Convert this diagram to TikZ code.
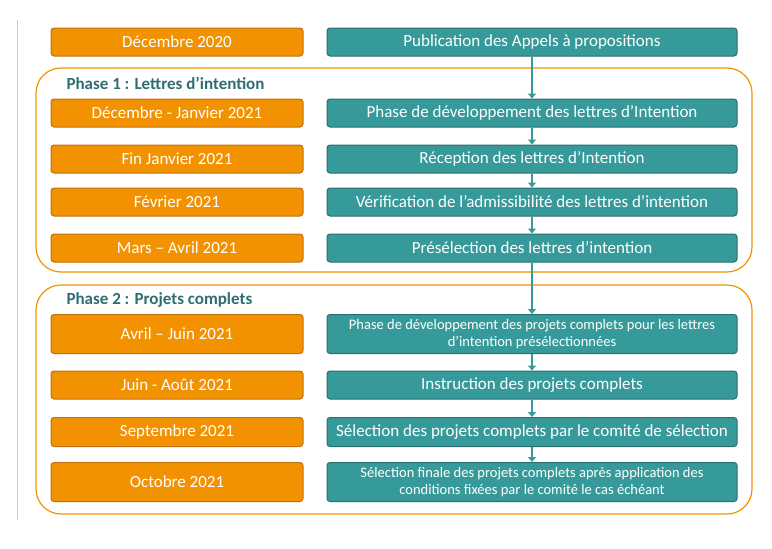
\documentclass[tikz,border=0pt]{standalone}
\usepackage{fontspec}
\setmainfont{Carlito}
\usetikzlibrary{arrows.meta}
\definecolor{org}{HTML}{F39200}
\definecolor{orgd}{HTML}{C07010}
\definecolor{tl}{HTML}{379A9A}
\definecolor{tld}{HTML}{2A6E70}
\definecolor{ttl}{HTML}{2E6E73}
\tikzset{x=1pt,y=-1pt,
 ob/.style={draw=orgd,fill=org,rounded corners=3pt,line width=1pt,text=white,font=\fontsize{17}{19}\selectfont,inner sep=0pt},
 tb/.style={draw=tld,fill=tl,rounded corners=3pt,line width=1pt,text=white,inner sep=0pt,align=center},
 ph/.style={draw=org,rounded corners=25pt,line width=1.2pt},
 ar/.style={draw=tl,line width=2.5pt,-{Triangle[length=5pt,width=8pt]}},
 pt/.style={text=ttl,font=\bfseries\fontsize{17}{19}\selectfont,anchor=west}}
\begin{document}
\begin{tikzpicture}
\useasboundingbox (0,0) rectangle (772,549);
\draw[gray!40,line width=0.8pt] (17,20) -- (17,520);
\draw[ph] (36,68) rectangle (752,272);
\draw[ph] (36,285) rectangle (752,514);
\node[pt] (p1) at (63,83) {Phase 1 : Lettres d’intention};
\node[pt] (p2) at (63,300) {Phase 2 : Projets complets};
\newcommand{\rowx}[6]{%
 \node[ob,minimum width=252pt,minimum height=#3pt] (o#1) at (177,#2) {#4};
 \node[tb,minimum width=410pt,minimum height=#3pt,font=#6] (t#1) at (532,#2) {#5};}
\def\nf{\fontsize{17}{19}\selectfont}
\def\sf{\fontsize{14.5}{17}\selectfont}
\rowx{1}{42}{28}{Décembre 2020}{Publication des Appels à propositions}{\nf}
\rowx{2}{113}{28}{Décembre - Janvier 2021}{Phase de développement des lettres d’Intention}{\nf}
\rowx{3}{159}{28}{Fin Janvier 2021}{Réception des lettres d’Intention}{\nf}
\rowx{4}{202}{28}{Février 2021}{Vérification de l’admissibilité des lettres d’intention}{\nf}
\rowx{5}{248}{28}{Mars – Avril 2021}{Présélection des lettres d’intention}{\nf}
\rowx{6}{334}{39}{Avril – Juin 2021}{Phase de développement des projets complets pour les lettres\\d’intention présélectionnées}{\sf}
\rowx{7}{385}{28}{Juin - Août 2021}{Instruction des projets complets}{\nf}
\rowx{8}{432}{29}{Septembre 2021}{Sélection des projets complets par le comité de sélection}{\nf}
\rowx{9}{482}{39}{Octobre 2021}{Sélection finale des projets complets après application des\\conditions fixées par le comité le cas échéant}{\sf}
\foreach \a/\b in {1/2,2/3,3/4,4/5,5/6,6/7,7/8,8/9}
  \draw[ar] (t\a.south) -- (t\b.north);
\end{tikzpicture}
\end{document}
